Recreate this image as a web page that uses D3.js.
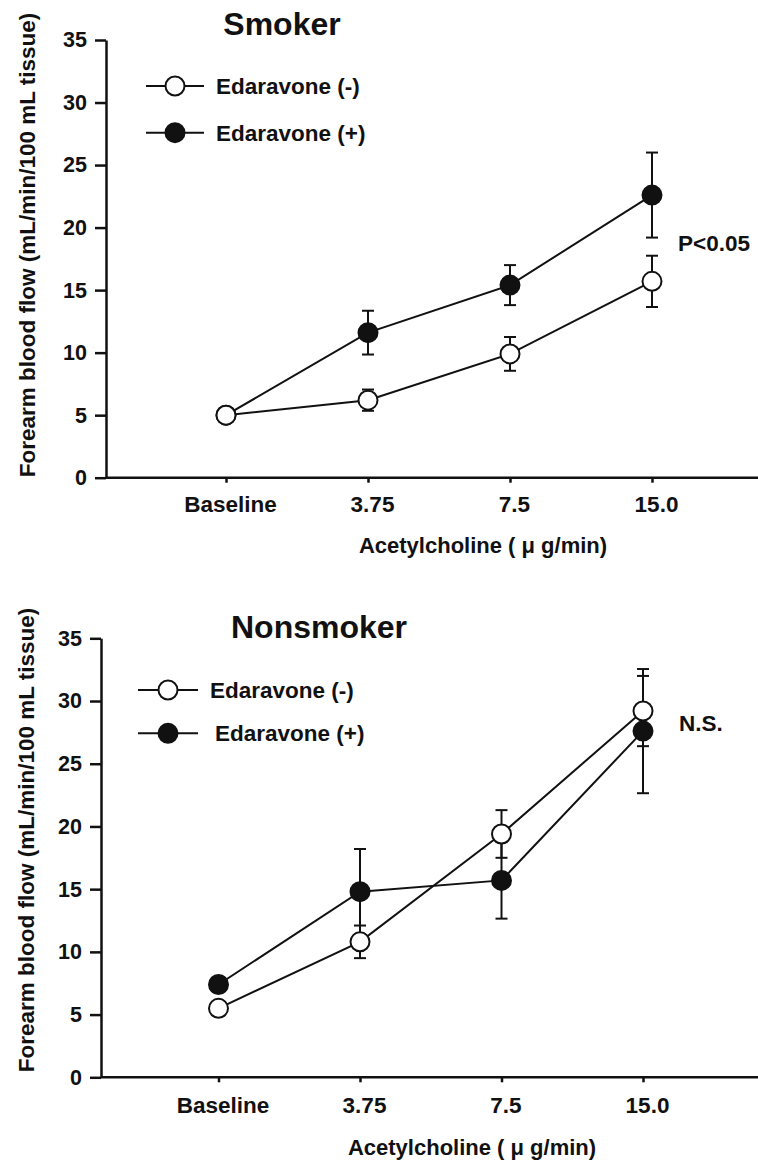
<!DOCTYPE html>
<html>
<head>
<meta charset="utf-8">
<script src="https://cdn.jsdelivr.net/npm/d3@7"></script>
<style>
  body { margin: 0; background: #fff; }
  text { font-family: "Liberation Sans", Arial, sans-serif; font-weight: bold; fill: #111; }
</style>
</head>
<body>
<div id="chart"></div>
<script>
// Data
const categories = ["Baseline", "3.75", "7.5", "15.0"];
const yTicks = [0, 5, 10, 15, 20, 25, 30, 35];
const seriesNames = ["Edaravone (-)", "Edaravone (+)"];

const smokerMinus = [5.0, 6.2, 9.9, 15.7];
const smokerMinusErr = [0.4, 0.85, 1.35, 2.05];
const smokerPlus = [5.0, 11.6, 15.4, 22.6];
const smokerPlusErr = [0.4, 1.75, 1.6, 3.4];

const nonsmokerMinus = [5.5, 10.8, 19.4, 29.2];
const nonsmokerMinusErr = [0.4, 1.3, 1.9, 2.8];
const nonsmokerPlus = [7.4, 14.8, 15.7, 27.6];
const nonsmokerPlusErr = [0.6, 3.4, 3.05, 4.95];

const yLabel = "Forearm blood flow (mL/min/100 mL tissue)";
const xLabel = "Acetylcholine ( \u03bc g/min)";

const W = 758, H = 1161;
const ink = "#111";

const svg = d3.select("#chart")
  .append("svg")
    .attr("width", W)
    .attr("height", H);

function drawPanel(cfg) {
  const g = svg.append("g");

  const y = d3.scaleLinear().domain([0, 35]).range([cfg.bottom, cfg.top]);
  const x = d3.scalePoint().domain(categories).range([cfg.xFirst, cfg.xLast]);

  //Y axis
  const yAxis = g.append("g")
    .attr("transform", `translate(${cfg.axisX},0)`)
    .call(d3.axisLeft(y).tickValues(yTicks).tickSize(11).tickPadding(8).tickSizeOuter(0));
  yAxis.select(".domain").attr("stroke", ink).attr("stroke-width", 2.5);
  yAxis.selectAll(".tick line").attr("stroke", ink).attr("stroke-width", 2.5);
  yAxis.selectAll(".tick text").style("font-size", "21.5px");

  //X axis
  const xAxis = g.append("g")
    .attr("transform", `translate(0,${cfg.bottom})`)
    .call(d3.axisBottom(x).tickSize(5).tickSizeOuter(0));
  xAxis.select(".domain").remove();
  xAxis.append("line")
    .attr("x1", cfg.axisX)
    .attr("x2", W)
    .attr("stroke", ink)
    .attr("stroke-width", 2.5);
  xAxis.selectAll(".tick line").attr("stroke", ink).attr("stroke-width", 2.5);
  xAxis.selectAll(".tick text")
    .style("font-size", "22.5px")
    .attr("y", cfg.tickLabelY)
    .attr("dx", 4)
    .attr("dy", 0);

  //Axis titles
  g.append("text")
    .attr("x", cfg.xTitleX)
    .attr("y", cfg.bottom + cfg.xTitleY)
    .attr("text-anchor", "middle")
    .style("font-size", "22px")
    .text(xLabel);

  g.append("text")
    .attr("transform", `translate(${cfg.yTitleX},${cfg.yTitleY}) rotate(-90)`)
    .attr("text-anchor", "middle")
    .attr("dy", "0.35em")
    .style("font-size", "22.5px")
    .text(yLabel);

  //Panel title
  g.append("text")
    .attr("x", cfg.titleX)
    .attr("y", cfg.titleY)
    .attr("text-anchor", "middle")
    .style("font-size", "32px")
    .text(cfg.title);

  //Lines
  const line = d3.line()
    .x((d, i) => x(categories[i]))
    .y(d => y(d));

  cfg.series.forEach(s => {
    g.append("path")
      .datum(s.values)
      .attr("d", line)
      .attr("fill", "none")
      .attr("stroke", ink)
      .attr("stroke-width", 2);
  });

  //Error bars
  const capW = 6;
  cfg.series.forEach(s => {
    const eb = g.append("g");
    s.values.forEach((v, i) => {
      const cx = x(categories[i]);
      const hi = y(v + s.errors[i]);
      const lo = y(v - s.errors[i]);
      eb.append("line")
        .attr("x1", cx).attr("x2", cx)
        .attr("y1", hi).attr("y2", lo)
        .attr("stroke", ink).attr("stroke-width", 2);
      [hi, lo].forEach(yy => {
        eb.append("line")
          .attr("x1", cx - capW).attr("x2", cx + capW)
          .attr("y1", yy).attr("y2", yy)
          .attr("stroke", ink).attr("stroke-width", 2);
      });
    });
  });

  //Points
  cfg.order.forEach(k => {
    const s = cfg.series[k];
    g.append("g").selectAll("circle")
      .data(s.values)
      .enter()
      .append("circle")
        .attr("cx", (d, i) => x(categories[i]))
        .attr("cy", d => y(d))
        .attr("r", 9.5)
        .attr("fill", s.fill)
        .attr("stroke", ink)
        .attr("stroke-width", 2);
  });

  //Legend
  cfg.series.forEach((s, i) => {
    const row = g.append("g")
      .attr("transform", `translate(0,${cfg.legendY[i]})`);
    row.append("line")
      .attr("x1", cfg.legendX1).attr("x2", cfg.legendX2)
      .attr("stroke", ink).attr("stroke-width", 2);
    row.append("circle")
      .attr("cx", (cfg.legendX1 + cfg.legendX2) / 2)
      .attr("r", 9.5)
      .attr("fill", s.fill)
      .attr("stroke", ink)
      .attr("stroke-width", 2);
    row.append("text")
      .attr("x", cfg.legendTextX[i])
      .attr("dy", "0.36em")
      .style("font-size", "22.5px")
      .text(s.name);
  });

  //Significance note
  g.append("text")
    .attr("x", cfg.noteX)
    .attr("y", cfg.noteY)
    .attr("dy", "0.36em")
    .style("font-size", "22.5px")
    .text(cfg.note);
}

drawPanel({
  title: "Smoker", titleX: 282, titleY: 35,
  top: 40, bottom: 477.7, axisX: 106, xFirst: 226, xLast: 652,
  tickLabelY: 34, xTitleX: 483, xTitleY: 75.5,
  yTitleX: 27, yTitleY: 245,
  legendX1: 146, legendX2: 204, legendY: [86, 132.7], legendTextX: [216, 216],
  note: "P<0.05", noteX: 678, noteY: 242.7,
  order: [1, 0],
  series: [
    {name: seriesNames[0], values: smokerMinus, errors: smokerMinusErr, fill: "#fff"},
    {name: seriesNames[1], values: smokerPlus, errors: smokerPlusErr, fill: ink}
  ]
});

drawPanel({
  title: "Nonsmoker", titleX: 319, titleY: 638,
  top: 638.3, bottom: 1077.3, axisX: 101, xFirst: 218.5, xLast: 643,
  tickLabelY: 36, xTitleX: 472, xTitleY: 77.7,
  yTitleX: 26, yTitleY: 840,
  legendX1: 138, legendX2: 198, legendY: [690, 733.3], legendTextX: [210, 215],
  note: "N.S.", noteX: 679, noteY: 723.3,
  order: [0, 1],
  series: [
    {name: seriesNames[0], values: nonsmokerMinus, errors: nonsmokerMinusErr, fill: "#fff"},
    {name: seriesNames[1], values: nonsmokerPlus, errors: nonsmokerPlusErr, fill: ink}
  ]
});
</script>
</body>
</html>
